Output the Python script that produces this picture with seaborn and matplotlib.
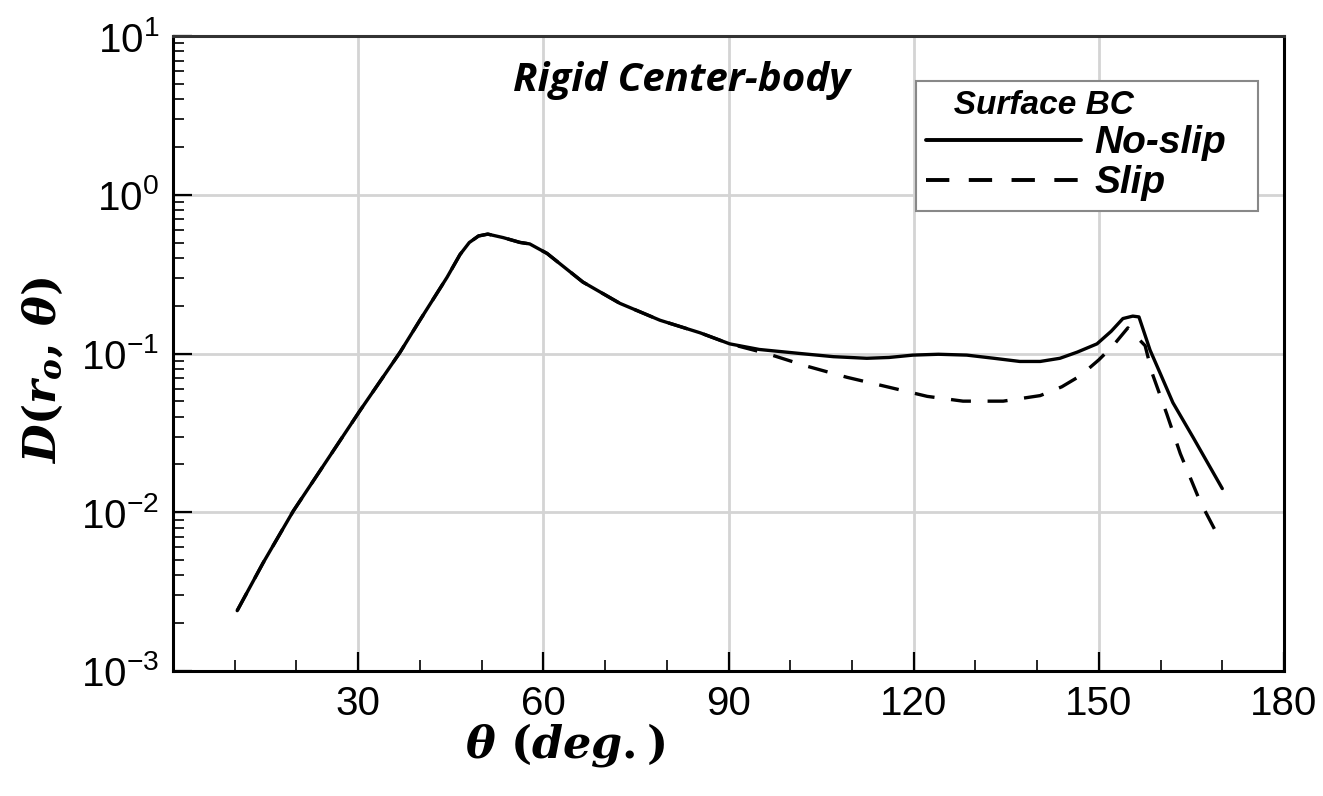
import numpy as np
import pandas as pd
import matplotlib
matplotlib.use("Agg")
import matplotlib.pyplot as plt
import matplotlib.ticker as mticker
import seaborn as sns

# ---- data ----
theta_noslip = [10.4, 14.6, 19.5, 23.8, 30.3, 36.8, 40.0, 44.4, 46.5, 48.0, 49.5, 51.0, 53.5,
                56.2, 57.8, 60.6, 66.4, 72.4, 78.9, 85.4, 90.2, 95.0, 101.6, 107.0, 112.4,
                116.0, 119.9, 124.0, 128.6, 133.0, 137.2, 140.5, 143.7, 146.5, 149.7, 152.0,
                153.9, 155.5, 156.5, 158.3, 160.0, 162.0, 165.3, 170.0]
d_noslip = [0.0024, 0.0048, 0.0102, 0.0182, 0.0437, 0.102, 0.162, 0.302, 0.420, 0.500, 0.550, 0.565, 0.537,
            0.501, 0.490, 0.427, 0.282, 0.207, 0.162, 0.135, 0.115, 0.106, 0.100, 0.0955, 0.0933,
            0.0944, 0.0977, 0.0989, 0.0977, 0.0933, 0.0891, 0.0891, 0.0933, 0.102, 0.115, 0.138,
            0.166, 0.172, 0.170, 0.105, 0.0741, 0.049, 0.0295, 0.0141]

theta_slip = [10.4, 14.6, 19.5, 23.8, 30.3, 36.8, 40.0, 44.4, 46.5, 48.0, 49.5, 51.0, 53.5,
              56.2, 57.8, 60.6, 66.4, 72.4, 78.9, 85.4, 90.2, 96.2, 102.7, 109.2, 115.7,
              122.2, 128.0, 134.5, 140.5, 144.0, 147.0, 150.0, 152.3, 154.7, 157.5, 158.6,
              161.0, 163.2, 166.4, 169.6]
d_slip = [0.0024, 0.0048, 0.0102, 0.0182, 0.0437, 0.102, 0.162, 0.302, 0.420, 0.500, 0.550, 0.565, 0.537,
          0.501, 0.490, 0.427, 0.282, 0.207, 0.162, 0.135, 0.115, 0.100, 0.0832, 0.0708, 0.0617,
          0.0537, 0.0501, 0.0501, 0.0543, 0.0617, 0.0724, 0.0912, 0.112, 0.145, 0.112, 0.0759,
          0.0417, 0.0234, 0.0117, 0.00676]

series_labels = ["No-slip", "Slip"]
xticks = [30, 60, 90, 120, 150, 180]

df = pd.concat([
    pd.DataFrame({"theta": theta_noslip, "D": d_noslip, "BC": series_labels[0]}),
    pd.DataFrame({"theta": theta_slip, "D": d_slip, "BC": series_labels[1]}),
], ignore_index=True)

sns.set_theme(style="white")
plt.rcParams["font.family"] = ["Liberation Sans", "DejaVu Sans"]
plt.rcParams["text.color"] = "black"
plt.rcParams["xtick.color"] = "black"
plt.rcParams["ytick.color"] = "black"
plt.rcParams["mathtext.fontset"] = "custom"
plt.rcParams["mathtext.it"] = "DejaVu Serif:bold:italic"
plt.rcParams["mathtext.rm"] = "DejaVu Serif:bold"
plt.rcParams["mathtext.bf"] = "DejaVu Serif:bold"

fig = plt.figure(figsize=(13.23, 7.96), dpi=100)
ax = fig.add_axes([173/1323, 1 - 671/796, (1284-173)/1323, (671-36)/796])

sns.lineplot(data=df, x="theta", y="D", style="BC", color="black", linewidth=2.4,
             dashes={"No-slip": "", "Slip": (6, 5)}, sort=False, estimator=None, ax=ax,
             legend=True)

ax.set_yscale("log")
ax.set_ylim(1e-3, 10)
ax.set_xlim(0, 180)
ax.set_xticks(xticks)
ax.set_xticklabels([str(t) for t in xticks])
ax.xaxis.set_minor_locator(mticker.MultipleLocator(10))
ax.yaxis.set_major_locator(mticker.LogLocator(base=10, numticks=10))
ax.yaxis.set_minor_locator(mticker.LogLocator(base=10, subs=np.arange(2, 10), numticks=20))
ax.yaxis.set_minor_formatter(mticker.NullFormatter())

ax.grid(True, which="major", color="#d4d4d4", linewidth=2.0)
ax.set_axisbelow(True)
ax.tick_params(axis="both", which="both", bottom=True, left=True, top=False, right=False)
ax.tick_params(axis="both", which="major", direction="in", length=14, width=1.6,
               color="black", labelsize=29, pad=10, labelcolor="black")
ax.tick_params(axis="both", which="minor", direction="in", length=8, width=1.2, color="black")
for s in ax.spines.values():
    s.set_color("black")
    s.set_linewidth(2.2)
ax.spines["top"].set_color("#333333")

ax.set_xlabel("")
ax.set_ylabel("")
fig.text(565/1323, 1 - 745/796, r"$\theta\ (deg.)$", fontsize=32, ha="center", va="center")
fig.text(42/1323, 1 - 370/796, r"$D(r_o,\,\theta)$", fontsize=32, ha="center", va="center",
         rotation=90)

fig.text(513/1323, 1 - 80/796, "Rigid Center-body", fontsize=29, fontweight="bold",
         fontstyle="italic", family="Open Sans", ha="left", va="center")

handles, labels = ax.get_legend_handles_labels()
leg = ax.legend(handles, labels, title="   Surface BC", loc="upper left",
                bbox_to_anchor=(0.669, 0.726, 0.308, 0.203), mode="expand",
                frameon=True, fancybox=False,
                handlelength=4.0, handletextpad=0.35, borderpad=0.24, labelspacing=0.1,
                prop={"size": 28, "weight": "bold", "style": "italic"},
                title_fontproperties={"size": 24, "weight": "bold", "style": "italic"},
                alignment="left", borderaxespad=0)
leg.get_frame().set_edgecolor("#888888")
leg.get_frame().set_linewidth(1.5)
leg.get_frame().set_alpha(1)
for line in leg.get_lines():
    line.set_linewidth(2.8)

fig.savefig("out.png", dpi=100)
